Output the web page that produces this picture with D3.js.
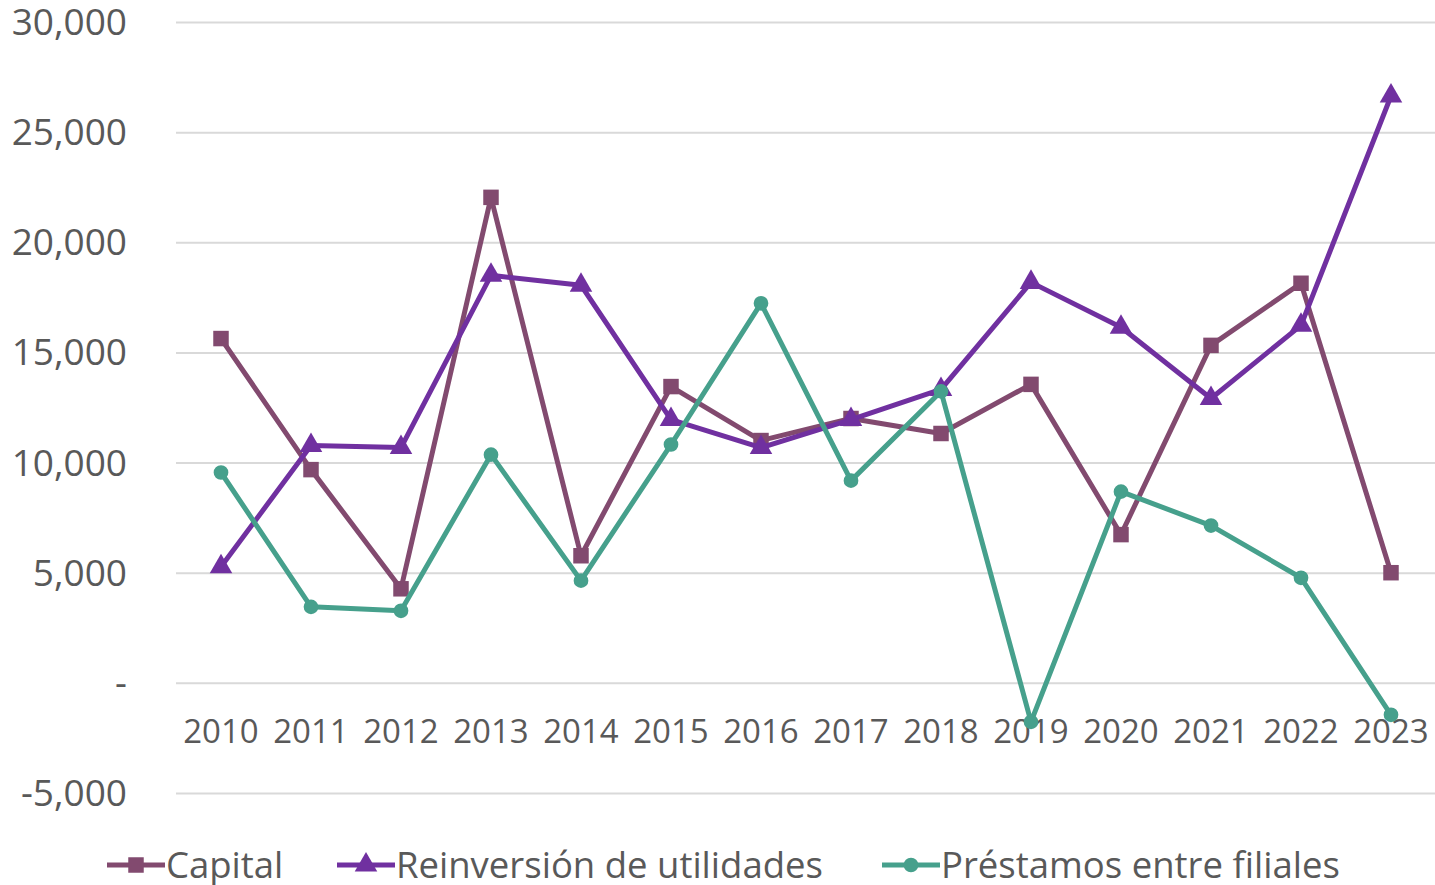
<html lang="es">
<head>
  <meta charset="UTF-8"/>
  <title>Inversión extranjera directa por componente</title>
  <script src="https://d3js.org/d3.v7.min.js"></script>
  <style>
body {
  margin: 0;
  background: #fff;
  font-family: 'Open Sans', sans-serif;
}
svg {
  display: block;
}
.grid line {
  stroke: #D9D9D9;
  stroke-width: 2;
}
.grid path {
  stroke-width: 0;
}
text.tick-y {
  font-size: 37px;
  fill: #595959;
}
text.tick-x {
  font-size: 33px;
  fill: #595959;
}
text.legend {
  font-size: 36.5px;
  fill: #595959;
}
  </style>
</head>
<body>
  <svg width="1435" height="885"></svg>
  <script>
// data
const years = ['2010', '2011', '2012', '2013', '2014', '2015', '2016', '2017', '2018', '2019', '2020', '2021', '2022', '2023'];
const capital = [15630, 9680, 4270, 22040, 5770, 13450, 11000, 12000, 11320, 13550, 6730, 15320, 18140, 5000];
const reinversion = [5270, 10770, 10680, 18500, 18050, 11950, 10680, 11950, 13320, 18180, 16140, 12910, 16230, 26640];
const prestamos = [9550, 3450, 3270, 10360, 4640, 10820, 17230, 9180, 13230, -1770, 8680, 7140, 4770, -1450];
const yTicks = [-5000, 0, 5000, 10000, 15000, 20000, 25000, 30000];

const series = [
  { name: 'Capital', values: capital, color: '#824A6F', marker: 'square' },
  { name: 'Reinversión de utilidades', values: reinversion, color: '#7030A0', marker: 'triangle' },
  { name: 'Préstamos entre filiales', values: prestamos, color: '#46A08C', marker: 'circle' }
];

const svg = d3.select('svg');

const left = 176, right = 1436;
const x = d3.scaleBand().domain(years).range([left, right]);
const y = d3.scaleLinear().domain([-5000, 30000]).range([793, 22]);
const cx = (d) => x(d) + x.bandwidth() / 2;

// horizontal grid lines
svg.append('g')
  .attr('class', 'grid')
  .attr('transform', `translate(${left}, 0)`)
  .call(d3.axisLeft(y)
    .tickValues(yTicks)
    .tickSize(-(right - left))
    .tickFormat(''));

// y labels (Excel style: zero shown as a dash, plain hyphen for negatives)
const fmt = d3.format(',');
svg.append('g')
  .selectAll('text')
  .data(yTicks)
  .enter()
  .append('text')
  .attr('class', 'tick-y')
  .attr('x', 127)
  .attr('y', (d) => y(d))
  .attr('dy', '0.35em')
  .attr('text-anchor', 'end')
  .text((d) => d === 0 ? '-' : fmt(d).replace('\u2212', '-'));

// x labels
svg.append('g')
  .selectAll('text')
  .data(years)
  .enter()
  .append('text')
  .attr('class', 'tick-x')
  .attr('x', (d) => cx(d))
  .attr('y', 731)
  .attr('dy', '0.35em')
  .attr('text-anchor', 'middle')
  .text((d) => d);

const symbols = {
  square: d3.symbol().type(d3.symbolSquare).size(240),
  triangle: d3.symbol().type(d3.symbolTriangle).size(220),
  circle: d3.symbol().type(d3.symbolCircle).size(170)
};

const line = d3.line()
  .x((d, i) => cx(years[i]))
  .y((d) => y(d));

series.forEach((s) => {
  const g = svg.append('g');
  g.append('path')
    .attr('d', line(s.values))
    .attr('fill', 'none')
    .attr('stroke', s.color)
    .attr('stroke-width', 5)
    .attr('stroke-linejoin', 'round');
  g.selectAll('path.mark')
    .data(s.values)
    .enter()
    .append('path')
    .attr('class', 'mark')
    .attr('d', symbols[s.marker])
    .attr('transform', (d, i) => `translate(${cx(years[i])}, ${y(d)})`)
    .attr('fill', s.color);
});

// legend
const legendX = [107, 337, 882];
const legendY = 865;
series.forEach((s, i) => {
  const g = svg.append('g').attr('transform', `translate(${legendX[i]}, ${legendY})`);
  g.append('line')
    .attr('x1', 0).attr('x2', 58)
    .attr('y1', 0).attr('y2', 0)
    .attr('stroke', s.color)
    .attr('stroke-width', 5);
  g.append('path')
    .attr('d', symbols[s.marker])
    .attr('transform', 'translate(29, 0)')
    .attr('fill', s.color);
  g.append('text')
    .attr('class', 'legend')
    .attr('x', 59)
    .attr('y', 0)
    .attr('dy', '0.35em')
    .text(s.name);
});
  </script>
</body>
</html>
